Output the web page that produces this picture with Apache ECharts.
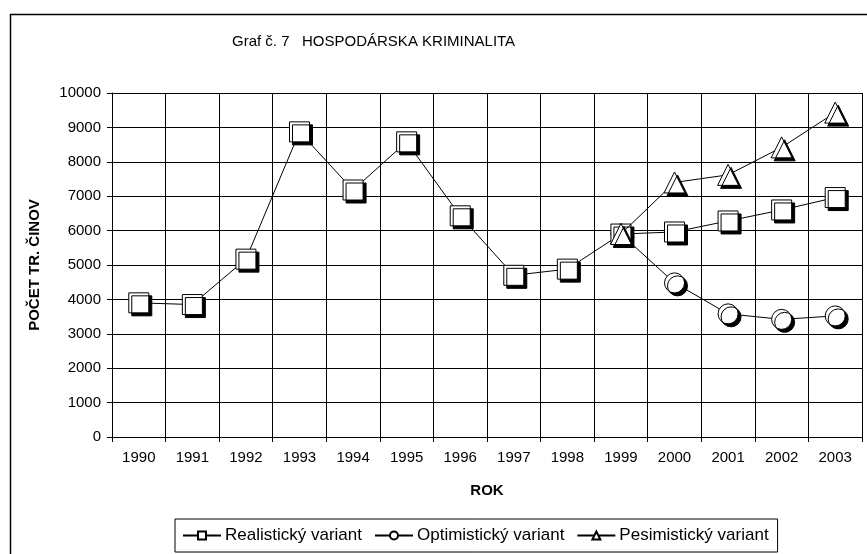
<!DOCTYPE html>
<html>
<head>
<meta charset="utf-8">
<script src="https://cdn.jsdelivr.net/npm/echarts@6/dist/echarts.min.js"></script>
<style>
  html, body { margin: 0; padding: 0; background: #fff; }
  #chart { width: 867px; height: 554px; }
</style>
</head>
<body>
<div id="chart"></div>
<script>
const years = ['1990', '1991', '1992', '1993', '1994', '1995', '1996', '1997', '1998', '1999', '2000', '2001', '2002', '2003'];
const realistic = [3900, 3850, 5170, 8870, 7180, 8580, 6430, 4700, 4880, 5900, 5960, 6280, 6600, 6960];
const optimistic = [null, null, null, null, null, null, null, null, null, 5900, 4480, 3580, 3420, 3520];
const pessimistic = [null, null, null, null, null, null, null, null, null, 5900, 7400, 7620, 8420, 9430];

const FONT = 'Liberation Sans, Arial, sans-serif';

const chart = echarts.init(document.getElementById('chart'), null, { renderer: 'canvas' });

// white markers with a hard black drop shadow, like the old Excel chart
function lineSeries(name, data, symbol, z) {
  return {
    name,
    type: 'line',
    data,
    z,
    symbol,
    symbolSize: symbol === 'triangle' ? 21 : 20,
    showAllSymbol: true,
    connectNulls: false,
    lineStyle: { color: '#000', width: 1 },
    itemStyle: {
      color: '#fff',
      borderColor: '#000',
      borderWidth: 1,
      shadowColor: '#000',
      shadowBlur: 0,
      shadowOffsetX: 3,
      shadowOffsetY: 3,
    },
    emphasis: { disabled: true },
  };
}

chart.setOption({
  backgroundColor: '#fff',
  animation: false,
  textStyle: { fontFamily: FONT, color: '#000' },
  graphic: [{
    type: 'rect',
    left: 8,
    top: 12,
    shape: { width: 900, height: 600 },
    style: { fill: 'none', stroke: '#000', lineWidth: 1.5 },
    silent: true,
  }],
  title: {
    text: 'Graf č. 7   HOSPODÁRSKA KRIMINALITA',
    left: 232,
    top: 34,
    padding: 0,
    textStyle: { fontFamily: FONT, fontSize: 15, fontWeight: 'normal', color: '#000' },
  },
  legend: {
    data: ['Realistický variant', 'Optimistický variant', 'Pesimistický variant'],
    left: 175,
    top: 519,
    padding: [8, 9, 8, 7],
    itemGap: 12,
    itemWidth: 38,
    itemHeight: 10,
    borderColor: '#000',
    borderWidth: 1,
    borderRadius: 0,
    itemStyle: { shadowColor: 'transparent', shadowOffsetX: 0, shadowOffsetY: 0 },
    textStyle: { fontFamily: FONT, fontSize: 17, color: '#000', padding: [0, 0, 0, -1] },
  },
  grid: { left: 112, right: 5, top: 93, bottom: 117, containLabel: false },
  xAxis: {
    type: 'category',
    data: years,
    boundaryGap: true,
    name: 'ROK',
    nameLocation: 'middle',
    nameGap: 46,
    nameTextStyle: { fontFamily: FONT, fontSize: 15, fontWeight: 'bold', color: '#000' },
    axisLine: { lineStyle: { color: '#000', width: 1 } },
    axisTick: { show: true, length: 5, lineStyle: { color: '#000' } },
    axisLabel: { fontFamily: FONT, fontSize: 15, color: '#000', margin: 13 },
    splitLine: { show: true, lineStyle: { color: '#000', width: 1 } },
  },
  yAxis: {
    type: 'value',
    min: 0,
    max: 10000,
    interval: 1000,
    name: 'POČET TR. ČINOV',
    nameLocation: 'middle',
    nameGap: 70,
    nameTextStyle: { fontFamily: FONT, fontSize: 15, fontWeight: 'bold', color: '#000' },
    axisLine: { show: true, lineStyle: { color: '#000', width: 1 } },
    axisTick: { show: true, length: 5, lineStyle: { color: '#000' } },
    axisLabel: { fontFamily: FONT, fontSize: 15, color: '#000', margin: 11, formatter: (v) => String(v) },
    splitLine: { show: true, lineStyle: { color: '#000', width: 1 } },
  },
  series: [
    lineSeries('Realistický variant', realistic, 'rect', 3),
    lineSeries('Optimistický variant', optimistic, 'circle', 2),
    lineSeries('Pesimistický variant', pessimistic, 'triangle', 4),
  ],
});
</script>
</body>
</html>
